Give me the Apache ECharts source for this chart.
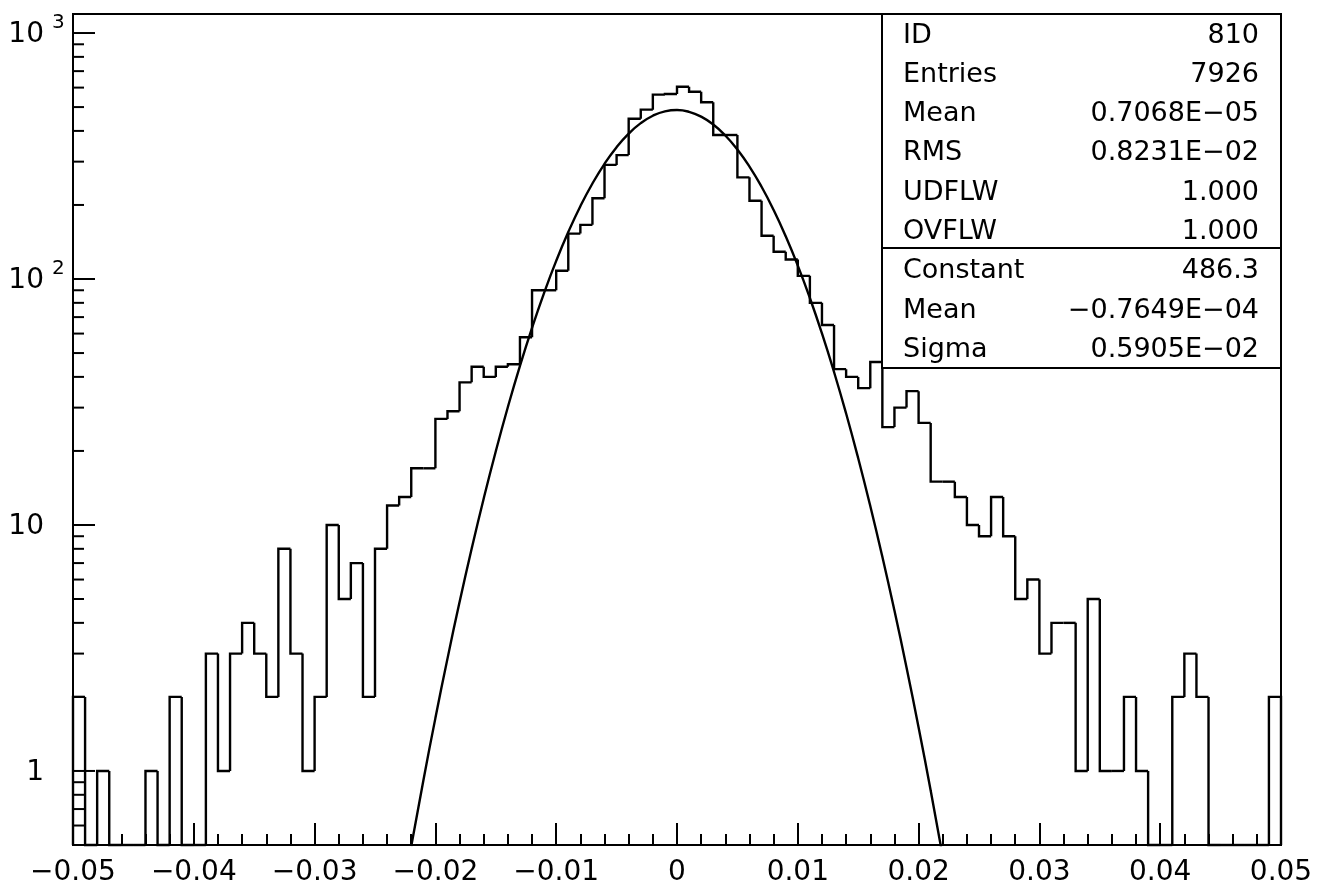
<!DOCTYPE html>
<html>
<head>
<meta charset="utf-8">
<script src="https://cdn.jsdelivr.net/npm/echarts@6/dist/echarts.min.js"></script>
<style>
html,body{margin:0;padding:0;background:#fff;}
#chart{width:1334px;height:886px;}
</style>
</head>
<body>
<div id="chart"></div>
<script>
// ---- data ----
const xMin = -0.05, xMax = 0.05, binWidth = 0.001;
const yMin = 0.5, yMax = 1195;
const counts = [
  2,0,1,0,0,0,1,0,2,0,
  0,3,1,3,4,3,2,8,3,1,
  2,10,5,7,2,8,12,13,17,17,
  27,29,38,44,40,44,45,58,90,90,
  108,153,166,213,291,319,448,488,562,565,
  605,577,523,385,385,259,208,150,129,120,
  103,80,65,43,40,36,46,25,30,35,
  26,15,15,13,10,9,13,9,5,6,
  3,4,4,1,5,1,1,2,1,0,
  0,2,3,2,0,0,0,0,0,2
];
const fitX = [-0.022,-0.021,-0.020,-0.019,-0.018,-0.017,-0.016,-0.015,-0.014,-0.013,-0.012,-0.011,-0.010,-0.009,-0.008,-0.007,-0.006,-0.005,-0.004,-0.003,-0.002,-0.001,0,
  0.001,0.002,0.003,0.004,0.005,0.006,0.007,0.008,0.009,0.010,0.011,0.012,0.013,0.014,0.015,0.016,0.017,0.018,0.019,0.020,0.021,0.022];
const fitY = [0.494,0.913,1.640,2.862,4.858,8.005,12.82,19.95,30.17,44.35,63.32,87.85,118.5,155.2,197.7,244.5,294.0,343.5,389.9,430.3,461.2,480.4,486.3,
  478.3,457.1,424.6,383.2,336.0,286.4,237.2,190.8,149.2,113.4,83.73,60.08,41.88,28.38,18.68,11.95,7.43,4.487,2.634,1.503,0.833,0.448];
const yMajorTicks = [1, 10, 100, 1000];
const yLabelBase = ['1', '10', '10', '10'];
const yLabelExp = ['', '', '2', '3'];
const yMinorTicks = [0.6,0.7,0.8,0.9,2,3,4,5,6,7,8,9,20,30,40,50,60,70,80,90,200,300,400,500,600,700,800,900];
const statLabels = ['ID','Entries','Mean','RMS','UDFLW','OVFLW'];
const statValues = ['810','7926','0.7068E\u221205','0.8231E\u221202','1.000','1.000'];
const fitLabels = ['Constant','Mean','Sigma'];
const fitValues = ['486.3','\u22120.7649E\u221204','0.5905E\u221202'];

// ---- build ----
const FONT = 'DejaVu Sans';
const LW = 2.4;
const histData = counts.map((c, i) => [
  xMin + i * binWidth, xMin + (i + 1) * binWidth, c,
  i === 0 ? 0 : counts[i - 1], i === counts.length - 1 ? 1 : 0
]);
const tickData = yMajorTicks.map((v, i) => [xMin, v, 1, i]).concat(yMinorTicks.map(v => [xMin, v, 0, -1]));

const chart = echarts.init(document.getElementById('chart'), null, {renderer: 'canvas'});

const graphicEls = [];
const boxL = 882, boxR = 1281, boxT = 14, boxMid = 248, boxB = 368;
graphicEls.push({type: 'rect', z: 100, shape: {x: boxL, y: boxT, width: boxR - boxL, height: boxB - boxT},
  style: {fill: '#fff', stroke: '#000', lineWidth: 2}});
graphicEls.push({type: 'line', z: 101, shape: {x1: boxL, y1: boxMid, x2: boxR, y2: boxMid},
  style: {stroke: '#000', lineWidth: 2}});
const rowY0 = 35.5, rowStep = 39.3;
const allLabels = statLabels.concat(fitLabels);
const allValues = statValues.concat(fitValues);
allLabels.forEach((t, i) => {
  const y = rowY0 + i * rowStep;
  graphicEls.push({type: 'text', z: 102, x: 903, y: y,
    style: {text: t, fontSize: 27, fontFamily: FONT, fill: '#000', align: 'left', textAlign: 'left', verticalAlign: 'middle', textVerticalAlign: 'middle'}});
  graphicEls.push({type: 'text', z: 102, x: 1259, y: y,
    style: {text: allValues[i], fontSize: 27, fontFamily: FONT, fill: '#000', align: 'right', textAlign: 'right', verticalAlign: 'middle', textVerticalAlign: 'middle'}});
});

const option = {
  animation: false,
  backgroundColor: '#fff',
  grid: {left: 73, right: 53, top: 14, bottom: 41, show: true, borderColor: '#000', borderWidth: 2, backgroundColor: 'transparent', containLabel: false, outerBoundsMode: 'none'},
  xAxis: {
    type: 'value', min: xMin, max: xMax, interval: 0.01,
    axisLine: {show: true, onZero: false, lineStyle: {color: '#000', width: 2}},
    axisTick: {show: true, inside: true, length: 22, lineStyle: {color: '#000', width: 2}},
    minorTick: {show: true, splitNumber: 5, length: 11, lineStyle: {color: '#000', width: 2}},
    splitLine: {show: false},
    axisLabel: {show: true, margin: 14, fontSize: 28, fontFamily: FONT, color: '#000',
      formatter: v => Math.abs(v) < 1e-9 ? '0' : (v < 0 ? '\u2212' : '') + Math.abs(v).toFixed(2)}
  },
  yAxis: {
    type: 'log', logBase: 10, min: yMin, max: yMax,
    axisLine: {show: true, onZero: false, lineStyle: {color: '#000', width: 2}},
    axisTick: {show: false}, axisLabel: {show: false}, splitLine: {show: false}, minorTick: {show: false}
  },
  series: [
    {
      type: 'custom', name: 'hist', data: histData, encode: {x: [0, 1], y: 2}, z: 3, silent: true,
      renderItem: function (params, api) {
        const xL = api.value(0), xR = api.value(1), c = api.value(2), p = api.value(3), last = api.value(4);
        const pL = api.coord([xL, Math.max(c, yMin)]);
        const pR = api.coord([xR, Math.max(c, yMin)]);
        const pP = api.coord([xL, Math.max(p, yMin)]);
        const base = api.coord([xR, yMin]);
        const pts = [[pL[0], pP[1]], [pL[0], pL[1]], [pR[0], pR[1]]];
        if (last) pts.push([pR[0], base[1]]);
        return {type: 'polyline', shape: {points: pts}, style: {stroke: '#000', lineWidth: LW, fill: null}};
      }
    },
    {
      type: 'line', name: 'fit', data: fitX.map((x, i) => [x, fitY[i]]), smooth: true, showSymbol: false, symbol: 'none',
      clip: true, z: 4, silent: true, lineStyle: {color: '#000', width: LW}
    },
    {
      type: 'custom', name: 'yticks', data: tickData, encode: {x: 0, y: 1}, z: 5, silent: true, clip: false,
      renderItem: function (params, api) {
        const v = api.value(1), major = api.value(2), li = api.value(3);
        const p = api.coord([xMin, v]);
        const children = [{type: 'line', shape: {x1: p[0], y1: p[1], x2: p[0] + (major ? 22 : 11), y2: p[1]},
          style: {stroke: '#000', lineWidth: 2}}];
        if (major) {
          children.push({type: 'text', x: p[0] - 29, y: p[1] + 2,
            style: {text: yLabelBase[li], fontSize: 28, fontFamily: FONT, fill: '#000', align: 'right', textAlign: 'right', verticalAlign: 'middle', textVerticalAlign: 'middle'}});
          if (yLabelExp[li]) {
            children.push({type: 'text', x: p[0] - 21, y: p[1] - 10,
              style: {text: yLabelExp[li], fontSize: 20, fontFamily: FONT, fill: '#000', align: 'left', textAlign: 'left', verticalAlign: 'middle', textVerticalAlign: 'middle'}});
          }
        }
        return {type: 'group', children: children};
      }
    }
  ],
  graphic: {elements: graphicEls}
};
chart.setOption(option);
</script>
</body>
</html>
